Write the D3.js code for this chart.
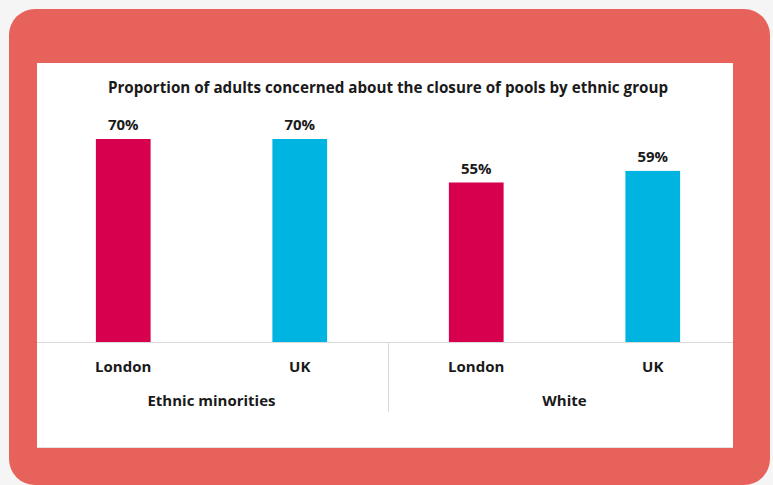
<!DOCTYPE html>
<html>
<head>
<meta charset="utf-8">
<script src="https://cdn.jsdelivr.net/npm/d3@7"></script>
<style>
	body { margin: 0; background: #f5f5f5; }
	text { font-family: "Open Sans", sans-serif; font-weight: 700; fill: #1a1a1a; }
</style>
</head>
<body>
<div id="chart"></div>
<script>
// chart values
var title = "Proportion of adults concerned about the closure of pools by ethnic group";
var groups = ["Ethnic minorities", "White"];
var places = ["London", "UK"];
var values = [70, 70, 55, 59];
var colours = ["#d6004f", "#00b4e2"];

var width = 773;
var height = 485;

// build one row per bar
var bars = [];
groups.forEach(function(g, gi){
	places.forEach(function(p, pi){
		bars.push({group: g, place: p, key: g + "|" + p, value: values[gi * places.length + pi], colour: colours[pi]});
	});
});

var svg = d3.select("#chart")
	.append("svg")
	.attr("width", width)
	.attr("height", height);

// red frame and white panel
svg.append("rect")
	.attr("x", 9)
	.attr("y", 9)
	.attr("width", 761)
	.attr("height", 476)
	.attr("rx", 26)
	.attr("fill", "#e8625c");

svg.append("rect")
	.attr("x", 37)
	.attr("y", 63)
	.attr("width", 696)
	.attr("height", 384)
	.attr("fill", "#ffffff");

svg.append("line")
	.attr("x1", 37).attr("x2", 733)
	.attr("y1", 447.5).attr("y2", 447.5)
	.attr("stroke", "#e3e3e3");

// scales
var xScale = d3.scaleBand()
	.domain(bars.map(function(d){ return d.key; }))
	.range([35, 741]);

var yScale = d3.scaleLinear()
	.domain([0, 100])
	.range([342, 52]);

var barWidth = xScale.bandwidth() * 0.31;

// title
svg.append("text")
	.attr("x", 388)
	.attr("y", 93)
	.style("text-anchor", "middle")
	.style("font-size", "15.2px")
	.text(title);

// bars
svg.selectAll(".bar")
	.data(bars)
	.enter()
	.append("rect")
	.attr("class", "bar")
	.attr("x", function(d){ return xScale(d.key) + (xScale.bandwidth() - barWidth) / 2; })
	.attr("y", function(d){ return yScale(d.value); })
	.attr("width", barWidth)
	.attr("height", function(d){ return yScale(0) - yScale(d.value); })
	.attr("fill", function(d){ return d.colour; });

// value labels
svg.selectAll(".val")
	.data(bars)
	.enter()
	.append("text")
	.attr("class", "val")
	.attr("x", function(d){ return xScale(d.key) + xScale.bandwidth() / 2; })
	.attr("y", function(d){ return yScale(d.value) - 9; })
	.style("text-anchor", "middle")
	.style("font-size", "15px")
	.text(function(d){ return d.value + "%"; });

// axis line
svg.append("line")
	.attr("x1", 37).attr("x2", 733)
	.attr("y1", yScale(0) + 0.5).attr("y2", yScale(0) + 0.5)
	.attr("stroke", "#d9d9d9");

// divider between groups
var divX = xScale(groups[1] + "|" + places[0]);
svg.append("line")
	.attr("x1", Math.round(divX) + 0.5).attr("x2", Math.round(divX) + 0.5)
	.attr("y1", yScale(0)).attr("y2", 412)
	.attr("stroke", "#d9d9d9");

// place labels
svg.selectAll(".place")
	.data(bars)
	.enter()
	.append("text")
	.attr("class", "place")
	.attr("x", function(d){ return xScale(d.key) + xScale.bandwidth() / 2; })
	.attr("y", 372)
	.style("text-anchor", "middle")
	.style("font-size", "15px")
	.text(function(d){ return d.place; });

// group labels
svg.selectAll(".group")
	.data(groups)
	.enter()
	.append("text")
	.attr("class", "group")
	.attr("x", function(g){
		return (xScale(g + "|" + places[0]) + xScale(g + "|" + places[1]) + xScale.bandwidth()) / 2;
	})
	.attr("y", 406)
	.style("text-anchor", "middle")
	.style("font-size", "15px")
	.text(function(g){ return g; });
</script>
</body>
</html>
